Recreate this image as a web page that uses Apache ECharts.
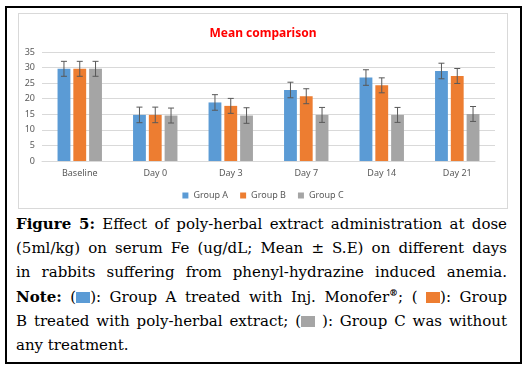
<!DOCTYPE html>
<html>
<head>
<meta charset="utf-8">
<script src="https://cdn.jsdelivr.net/npm/echarts@6/dist/echarts.min.js"></script>
<style>
  body { margin: 0; background: #fff; width: 529px; height: 371px; position: relative; overflow: hidden; }
  #frame { position: absolute; left: 5px; top: 6px; width: 517px; height: 358px; border: 2px solid #000; box-sizing: border-box; }
  #chart { position: absolute; left: 18px; top: 13px; width: 490px; height: 196px; border: 1px solid #d9d9d9; box-sizing: border-box; }
  #caption { position: absolute; left: 16px; top: 212px; width: 491px; font-family: "DejaVu Serif", serif; font-size: 15px; color: #000; }
  #caption .ln { height: 24.2px; line-height: 24.2px; white-space: nowrap; text-align: justify; text-align-last: justify; }
  #caption .ln.last { text-align-last: left; }
  #caption .sq { display: inline-block; width: 14px; height: 11px; vertical-align: -1px; }
  #caption sup { font-size: 9px; font-weight: bold; line-height: 0; }
</style>
</head>
<body>
<div id="frame"></div>
<div id="chart"></div>
<div id="caption">
  <div class="ln"><b>Figure 5:</b> Effect of poly-herbal extract administration at dose</div>
  <div class="ln">(5ml/kg) on serum Fe (ug/dL; Mean ± S.E) on different days</div>
  <div class="ln">in rabbits suffering from phenyl-hydrazine induced anemia.</div>
  <div class="ln"><b>Note:</b> (<span class="sq" style="background:#5b9bd5"></span>): Group A treated with Inj. Monofer<sup>®</sup>; ( <span class="sq" style="background:#ed7d31"></span>): Group</div>
  <div class="ln">B treated with poly-herbal extract; (<span class="sq" style="background:#a5a5a5"></span> ): Group C was without</div>
  <div class="ln last">any treatment.</div>
</div>
<script>
var categories = ["Baseline", "Day 0", "Day 3", "Day 7", "Day 14", "Day 21"];
var groupNames = ["Group A", "Group B", "Group C"];
var groupA = [29.6, 14.8, 18.8, 22.8, 26.8, 28.9];
var groupB = [29.6, 14.8, 17.7, 20.8, 24.3, 27.3];
var groupC = [29.6, 14.6, 14.6, 14.8, 14.8, 15.1];
var errA = [2.4, 2.5, 2.5, 2.5, 2.5, 2.5];
var errB = [2.4, 2.5, 2.4, 2.4, 2.4, 2.4];
var errC = [2.4, 2.4, 2.5, 2.4, 2.4, 2.4];
var colors = ["#5b9bd5", "#ed7d31", "#a5a5a5"];

var barPct = 0.17;
var gapPct = 0.23;

function errSeries(idx, vals, errs) {
  var d = vals.map(function (v, i) { return [i, v - errs[i], v + errs[i]]; });
  return {
    type: "custom",
    z: 5,
    silent: true,
    data: d,
    renderItem: function (params, api) {
      var band = api.size([1, 0])[0];
      var bw = band * barPct;
      var off = (idx - 1) * (bw * (1 + gapPct));
      var lo = api.coord([api.value(0), api.value(1)]);
      var hi = api.coord([api.value(0), api.value(2)]);
      var x = lo[0] + off;
      var cap = 3;
      var st = { stroke: "#595959", lineWidth: 1 };
      return {
        type: "group",
        children: [
          { type: "line", shape: { x1: x, y1: lo[1], x2: x, y2: hi[1] }, style: st },
          { type: "line", shape: { x1: x - cap, y1: lo[1], x2: x + cap, y2: lo[1] }, style: st },
          { type: "line", shape: { x1: x - cap, y1: hi[1], x2: x + cap, y2: hi[1] }, style: st }
        ]
      };
    }
  };
}

var chart = echarts.init(document.getElementById("chart"));
var font = "Noto Sans";
chart.setOption({
  animation: false,
  title: {
    text: "Mean comparison",
    left: "center",
    top: 9,
    textStyle: { color: "#ff0000", fontWeight: "bold", fontSize: 12, fontFamily: font }
  },
  legend: {
    data: groupNames,
    bottom: 3,
    left: "center",
    itemWidth: 6,
    itemHeight: 6,
    itemGap: 12,
    icon: "rect",
    textStyle: { color: "#595959", fontSize: 9, fontFamily: font }
  },
  grid: { left: 23, right: 12, top: 38, bottom: 47 },
  xAxis: {
    type: "category",
    data: categories,
    axisLine: { lineStyle: { color: "#d9d9d9" } },
    axisTick: { show: false },
    axisLabel: { color: "#595959", fontSize: 9, fontFamily: font, margin: 8 }
  },
  yAxis: {
    type: "value",
    min: 0,
    max: 35,
    interval: 5,
    axisLine: { show: false },
    axisTick: { show: false },
    axisLabel: { color: "#595959", fontSize: 9, fontFamily: font, margin: 7 },
    splitLine: { lineStyle: { color: "#d9d9d9" } }
  },
  series: [
    { name: groupNames[0], type: "bar", data: groupA, barWidth: "17%", barGap: "23%", itemStyle: { color: colors[0] } },
    { name: groupNames[1], type: "bar", data: groupB, barWidth: "17%", barGap: "23%", itemStyle: { color: colors[1] } },
    { name: groupNames[2], type: "bar", data: groupC, barWidth: "17%", barGap: "23%", itemStyle: { color: colors[2] } },
    errSeries(0, groupA, errA),
    errSeries(1, groupB, errB),
    errSeries(2, groupC, errC)
  ]
});
</script>
</body>
</html>
